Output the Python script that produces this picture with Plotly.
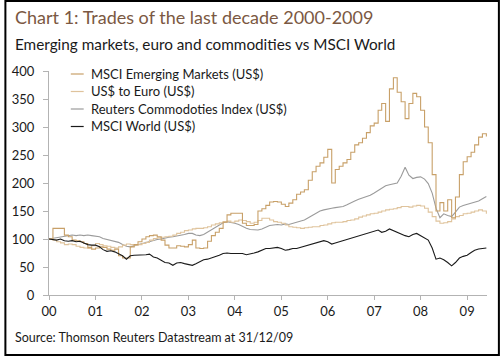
import plotly.graph_objects as go
import pandas as pd

# ---------------- data (monthly) ----------------
series_names = [
    "MSCI Emerging Markets (US$)",
    "US$ to Euro (US$)",
    "Reuters Commodoties Index (US$)",
    "MSCI World (US$)",
]

msci_em = [
    100, 119, 119, 119, 107, 104, 98, 97, 95, 92, 85, 82,
    84, 86, 85, 82, 80, 82, 70, 66, 66, 86, 90, 95,
    100, 104, 106, 107, 104, 98, 89, 84, 84, 88, 87, 86,
    90, 98, 84, 83, 84, 96, 106, 112, 119, 130, 143, 146,
    146, 146, 128, 124, 124, 126, 150, 154, 160, 166, 167, 166,
    162, 158, 164, 170, 180, 184, 188, 205, 220, 230, 236, 246,
    260, 200, 224, 230, 236, 242, 255, 268, 272, 280, 290, 302,
    307, 330, 342, 310, 368, 388, 362, 345, 315, 342, 360, 354,
    330, 300, 272, 215, 150, 165, 150, 170, 138, 175, 215, 238,
    247, 255, 268, 282, 288, 283,
]

usd_euro = [
    100, 98, 95, 93, 90, 91, 90, 87, 85, 84, 83, 88,
    92, 90, 88, 87, 85, 84, 86, 89, 91, 90, 89, 90,
    92, 94, 98, 101, 102, 103, 104, 105, 107, 110, 112, 115,
    116, 118, 119, 119, 120, 122, 125, 127, 129, 131, 132, 130,
    132, 134, 133, 131, 128, 130, 133, 137, 137, 134, 131, 130,
    128, 125, 122, 121, 120, 119, 120, 121, 122, 122, 124, 125,
    127, 129, 130, 130, 131, 133, 134, 136, 139, 141, 143, 145,
    146, 148, 150, 152, 153, 154, 156, 158, 158, 157, 159, 160,
    159, 155, 148, 140, 132, 128, 129, 131, 136, 140, 142, 145,
    146, 148, 150, 152, 150, 145,
]

commodities = [
    100, 101, 103, 104, 105, 106, 107, 106, 107, 106, 107, 106,
    105, 104, 101, 99, 98, 96, 94, 90, 87, 86, 88, 90,
    92, 94, 96, 98, 99, 100, 102, 103, 104, 105, 106, 108,
    110, 110, 107, 106, 108, 112, 116, 120, 125, 129, 131, 130,
    128, 126, 122, 119, 117, 116, 116, 118, 121, 124, 125, 126,
    125, 127, 126, 128, 130, 131, 134, 138, 142, 147, 150, 152,
    154, 155, 156, 157, 158, 161, 165, 168, 171, 173, 175, 178,
    182, 187, 190, 195, 197, 198, 200, 212, 228, 214, 208, 210,
    211, 207, 199, 182, 155, 138, 145, 142, 140, 148, 157, 160,
    162, 164, 165, 168, 172, 176,
]

msci_world = [
    100, 99, 98, 100, 97, 96, 97, 95, 96, 93, 90, 89,
    89, 86, 81, 78, 79, 77, 74, 70, 64, 70, 71, 71,
    71, 72, 73, 68, 66, 62, 58, 57, 53, 57, 58, 56,
    54, 53, 56, 60, 63, 64, 66, 68, 71, 74, 75, 74,
    74, 75, 74, 72, 73, 75, 77, 80, 83, 83, 84, 85,
    83, 80, 81, 83, 83, 85, 87, 89, 92, 94, 96, 97,
    95, 91, 93, 95, 97, 99, 101, 103, 106, 107, 109, 111,
    114, 116, 112, 114, 118, 115, 112, 108, 106, 104, 108, 110,
    106, 102, 98, 84, 64, 66, 63, 58, 52, 58, 66, 69,
    71, 76, 80, 82, 83, 84,
]

dates = pd.date_range("2000-01-01", periods=len(msci_em), freq="MS")
year_ticks = pd.date_range("2000-01-01", periods=10, freq="YS")
year_labels = ["00", "01", "02", "03", "04", "05", "06", "07", "08", "09"]
y_ticks = [0, 50, 100, 150, 200, 250, 300, 350, 400]

colors = ["#c8a068", "#dfc39c", "#9b9b9b", "#1a1a1a"]
shapes_line = ["hv", "hv", "linear", "linear"]
all_series = [msci_em, usd_euro, commodities, msci_world]

# ---------------- layout geometry ----------------
W, H = 500, 356
L, R, T, B = 45, 13, 71, 61
PW, PH = W - L - R, H - T - B


def px(x):
    return (x - L) / PW


def py(y):
    return (H - B - y) / PH


FONT = "Lato, 'Open Sans', sans-serif"

fig = go.Figure()
for idx in [2, 1, 0, 3]:
    fig.add_trace(go.Scatter(
        x=dates, y=all_series[idx], mode="lines", name=series_names[idx],
        line=dict(color=colors[idx], width=1.1, shape=shapes_line[idx]),
        showlegend=False, hoverinfo="skip",
    ))

annotations = [
    dict(text="Chart 1: Trades of the last decade 2000-2009", x=px(9), y=py(17),
         xref="paper", yref="paper", xanchor="left", yanchor="middle",
         showarrow=False, font=dict(family=FONT, size=18, color="#7b5842")),
    dict(text="Emerging markets, euro and commodities vs MSCI World", x=px(9), y=py(44),
         xref="paper", yref="paper", xanchor="left", yanchor="middle",
         showarrow=False, font=dict(family=FONT, size=15.3, color="#1a1a1a")),
    dict(text="Source: Thomson Reuters Datastream at 31/12/09", x=px(9), y=py(337),
         xref="paper", yref="paper", xanchor="left", yanchor="middle",
         showarrow=False, font=dict(family=FONT, size=12.5, color="#1a1a1a")),
]

shapes = [
    dict(type="rect", xref="paper", yref="paper",
         x0=px(1), x1=px(499), y0=py(1), y1=py(355),
         line=dict(color="#000000", width=2), fillcolor="rgba(0,0,0,0)", layer="above"),
]

legend_rows = [74, 91.5, 109, 126.5]
for i, name in enumerate(series_names):
    yy = legend_rows[i]
    shapes.append(dict(type="line", xref="paper", yref="paper",
                       x0=px(67), x1=px(80), y0=py(yy), y1=py(yy),
                       line=dict(color=colors[i], width=1.2)))
    annotations.append(dict(text=name, x=px(85), y=py(yy), xref="paper", yref="paper",
                            xanchor="left", yanchor="middle", showarrow=False,
                            font=dict(family=FONT, size=13, color="#1a1a1a")))

fig.update_layout(
    width=W, height=H,
    margin=dict(l=L, r=R, t=T, b=B, pad=0),
    paper_bgcolor="white", plot_bgcolor="white",
    showlegend=False,
    annotations=annotations, shapes=shapes,
    font=dict(family=FONT, size=13, color="#1a1a1a"),
)

fig.update_xaxes(
    range=[pd.Timestamp("2000-01-01"), pd.Timestamp("2009-06-06")],
    tickvals=year_ticks, ticktext=year_labels,
    showgrid=False, zeroline=False, showline=True, linecolor="#b3b3b3", linewidth=1,
    ticks="outside", ticklen=4, tickcolor="#b3b3b3",
    tickfont=dict(family=FONT, size=13, color="#1a1a1a"),
)
fig.update_yaxes(
    range=[0, 400], tickvals=y_ticks,
    showgrid=False, zeroline=False, showline=True, linecolor="#b3b3b3", linewidth=1,
    ticks="outside", ticklen=5, tickcolor="#b3b3b3", ticklabelstandoff=6,
    tickfont=dict(family=FONT, size=13, color="#1a1a1a"),
)

fig.write_html(
    "out.html",
    config={"displayModeBar": False},
    post_script="document.body.style.margin='0';document.body.style.padding='0';",
)
